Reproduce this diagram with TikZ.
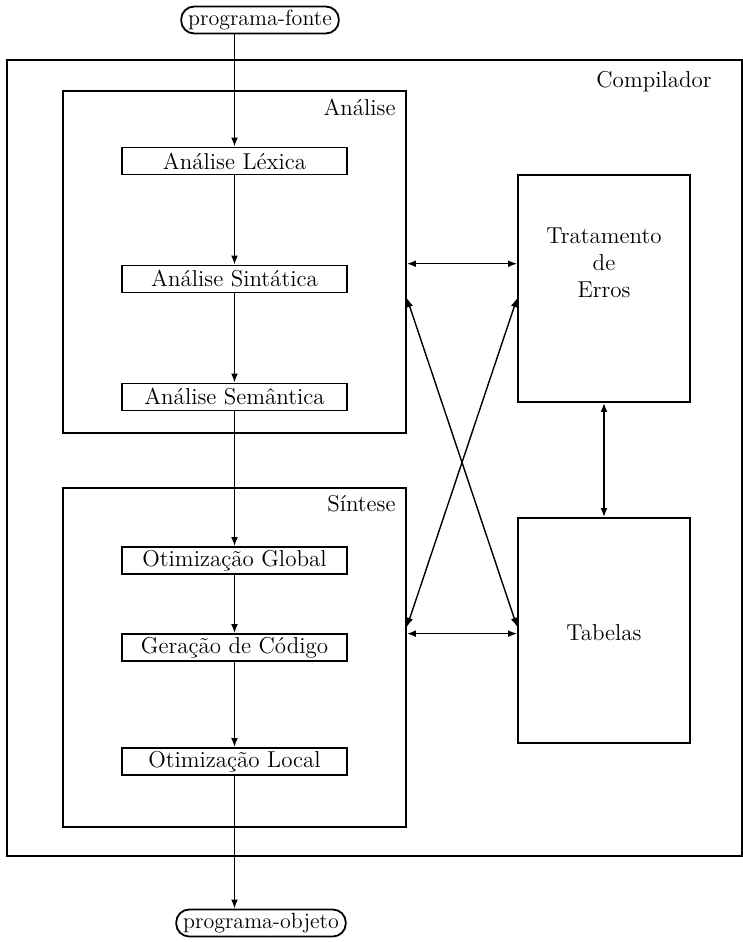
\documentclass[tikz,border=0pt]{standalone}
\usetikzlibrary{arrows.meta,calc}
\begin{document}
\begin{tikzpicture}[x=0.5pt,y=-0.5pt,
  font=\fontsize{11.5}{13.5}\selectfont,
  tip/.tip={Latex[length=4.5pt,width=3.4pt]},
  stage/.style={draw, line width=0.9pt, minimum width=112.5pt, minimum height=13.5pt, inner sep=0pt},
  bigbox/.style={draw, line width=0.9pt, inner sep=0pt},
  term/.style={draw, line width=0.9pt, rounded corners=6.5pt, minimum width=77pt, minimum height=13.5pt, inner ysep=0pt, inner xsep=3.5pt, font=\fontsize{11}{13}\selectfont},
  conn/.style={line width=0.7pt, -tip},
  dconn/.style={line width=0.7pt, tip-tip},
  lbl/.style={inner sep=0pt}]
\useasboundingbox (0,0) rectangle (743,942);
% outer compiler box
\node[bigbox, minimum width=367.5pt, minimum height=398pt] (comp) at (374.5,458) {};
\node[lbl, anchor=east] (complbl) at (712,82) {Compilador};
% analysis & synthesis boxes
\node[bigbox, minimum width=171.5pt, minimum height=171pt] (anal) at (234.5,262) {};
\node[lbl, anchor=east] (anallbl) at (396,107) {Análise};
\node[bigbox, minimum width=171.5pt, minimum height=169.5pt] (sint) at (234.5,657.5) {};
\node[lbl, anchor=east] (sintlbl) at (396,504) {Síntese};
% side boxes
\node[bigbox, minimum width=86pt, minimum height=113.5pt] (trat) at (604,288.5) {};
\node[lbl, align=center] (tratlbl) at (604,263) {Tratamento\\de\\Erros};
\node[bigbox, minimum width=86pt, minimum height=112.5pt] (tab) at (604,630.5) {};
\node[lbl] (tablbl) at (604,633) {Tabelas};
% stages
\node[stage] (lex) at (234.5,161) {Análise Léxica};
\node[stage] (sin) at (234.5,279) {Análise Sintática};
\node[stage] (sem) at (234.5,397) {Análise Semântica};
\node[stage] (glo) at (234.5,560.5) {Otimização Global};
\node[stage] (ger) at (234.5,647.5) {Geração de Código};
\node[stage] (loc) at (234.5,761.5) {Otimização Local};
% terminals
\node[term] (fonte) at (260,20) {programa-fonte};
\node[term] (objeto) at (261,923) {programa-objeto};
% main flow
\draw[conn] (lex.north |- fonte.south) -- (lex.north);
\draw[conn] (lex) -- (sin);
\draw[conn] (sin) -- (sem);
\draw[conn] (sem) -- (glo);
\draw[conn] (glo) -- (ger);
\draw[conn] (ger) -- (loc);
\draw[conn] (loc.south) -- (loc.south |- objeto.north);
% connections to side boxes
\coordinate (aTop) at ($(anal.north east)!0.505!(anal.south east)$);
\coordinate (tTop) at (trat.west |- aTop);
\draw[dconn] (aTop) -- (tTop);
\coordinate (sBot) at ($(sint.north east)!0.43!(sint.south east)$);
\coordinate (bBot) at (tab.west |- sBot);
\draw[dconn] (sBot) -- (bBot);
\coordinate (aX) at ($(anal.north east)!0.605!(anal.south east)$);
\coordinate (tX) at (trat.west |- aX);
\coordinate (sX) at ($(sint.north east)!0.41!(sint.south east)$);
\coordinate (bX) at (tab.west |- sX);
\draw[dconn] (aX) -- (bX);
\draw[dconn] (sX) -- (tX);
\draw[dconn] (trat.south) -- (tab.north);
\end{tikzpicture}
\end{document}
